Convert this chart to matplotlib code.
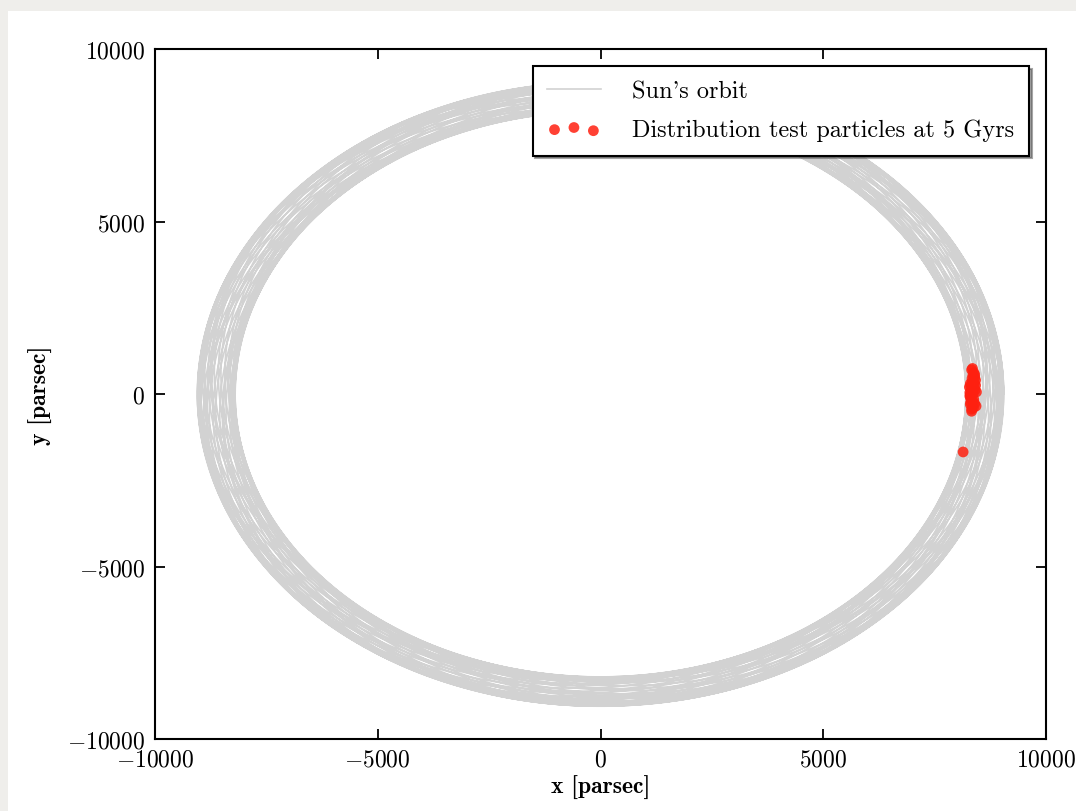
import numpy as np
import matplotlib
matplotlib.use("Agg")
import matplotlib.pyplot as plt
from matplotlib.patches import Rectangle

plt.rcParams['font.family'] = 'serif'
plt.rcParams['font.serif'] = ['cmr10', 'DejaVu Serif']
plt.rcParams['mathtext.fontset'] = 'cm'
plt.rcParams['axes.formatter.use_mathtext'] = True
plt.rcParams['axes.unicode_minus'] = True

# orbit parameters of the sun (parsec), integrated over 5 Gyr
r_min = 8200.0
r_max = 9050.0
n_turns = 40
kappa_ratio = 1.382

# test particle positions at 5 Gyr (parsec)
part_x = [8330, 8380, 8360, 8400, 8420, 8350, 8300, 8320, 8380, 8410, 8440,
          8360, 8290, 8310, 8350, 8400, 8430, 8370, 8330, 8280, 8300, 8390,
          8340, 8320, 8300, 8420, 8400, 8360, 8290, 8310, 8380, 8330, 8350,
          8140]
part_y = [700, 620, 540, 480, 400, 350, 300, 240, 180, 120, 60,
          0, -60, -120, -200, -280, -350, -400, -440, 200, -300, 300,
          450, 100, -20, 250, 560, 160, 40, -240, -160, -500, 740,
          -1680]

# epicyclic approximation of the orbit
t = np.linspace(0, 2 * np.pi * n_turns, 60000)
r0 = 0.5 * (r_min + r_max)
amp = 0.5 * (r_max - r_min)
r = r0 + amp * np.cos(kappa_ratio * t)
orb_x = r * np.cos(t)
orb_y = r * np.sin(t)

fig = plt.figure(figsize=(10.76, 8.12), dpi=100)
fig.patch.set_facecolor('#efeeeb')
fig.patches.append(Rectangle((8 / 1076, 0), 1, 800 / 812, transform=fig.transFigure,
                             facecolor='white', edgecolor='none', zorder=-10))

ax = fig.add_axes([155 / 1076, 72 / 812, 891 / 1076, 690 / 812])
ax.plot(orb_x, orb_y, color='#d2d2d2', lw=1.2, label="Sun's orbit", zorder=1)
ax.scatter(part_x, part_y, s=60, color='#ff2010', edgecolors='none', alpha=0.85,
           label='Distribution test particles at 5 Gyrs', zorder=2)

ax.set_xlim(-10000, 10000)
ax.set_ylim(-10000, 10000)
ax.set_xticks([-10000, -5000, 0, 5000, 10000])
ax.set_yticks([-10000, -5000, 0, 5000, 10000])
ax.tick_params(direction='in', top=True, right=True, length=7, width=1.3,
               labelsize=17, pad=7)
for sp in ax.spines.values():
    sp.set_linewidth(1.5)

ax.set_xlabel('x [parsec]', fontsize=17, fontweight='bold', family=['cmb10', 'DejaVu Serif'])
ax.set_ylabel('y [parsec]', fontsize=17, fontweight='bold', family=['cmb10', 'DejaVu Serif'])
ax.xaxis.labelpad = 3
ax.yaxis.labelpad = 10

leg = ax.legend(loc='upper right', fontsize=17.5, shadow=True, fancybox=False,
                scatterpoints=3, scatteryoffsets=[0.375, 0.5, 0.3125],
                borderaxespad=0.7, handlelength=2.2, handletextpad=1.3,
                labelspacing=0.65, borderpad=0.6)
leg.get_frame().set_edgecolor('black')
leg.get_frame().set_linewidth(1.5)

fig.savefig('out.png', dpi=100, facecolor=fig.get_facecolor())
